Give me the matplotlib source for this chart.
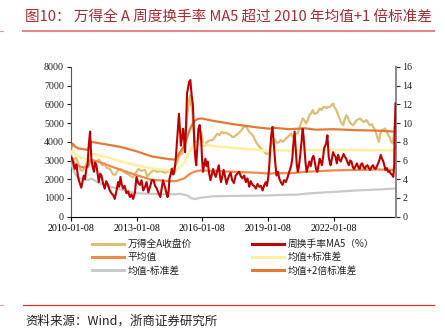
import matplotlib
matplotlib.use("Agg")
import matplotlib.pyplot as plt
from matplotlib.lines import Line2D

# ---------------- data ----------------
red_x = [2010.02, 2010.07, 2010.19, 2010.27, 2010.34, 2010.42, 2010.49, 2010.55, 2010.6, 2010.66,
         2010.72, 2010.78, 2010.83, 2010.89, 2010.95, 2011.01, 2011.07, 2011.12, 2011.18, 2011.24,
         2011.29, 2011.35, 2011.41, 2011.48, 2011.56, 2011.63, 2011.71, 2011.79, 2011.87, 2011.95,
         2012.02, 2012.1, 2012.17, 2012.22, 2012.28, 2012.34, 2012.4, 2012.47, 2012.55, 2012.63,
         2012.71, 2012.78, 2012.86, 2012.94, 2013.01, 2013.09, 2013.17, 2013.24, 2013.32, 2013.4,
         2013.47, 2013.55, 2013.63, 2013.71, 2013.79, 2013.86, 2013.94, 2014.02, 2014.1, 2014.16,
         2014.22, 2014.28, 2014.33, 2014.38, 2014.43, 2014.48, 2014.52, 2014.58, 2014.63, 2014.69,
         2014.74, 2014.8, 2014.86, 2014.91, 2014.95, 2015.0, 2015.04, 2015.09, 2015.14, 2015.19,
         2015.23, 2015.28, 2015.32, 2015.37, 2015.41, 2015.47, 2015.53, 2015.59, 2015.62, 2015.65,
         2015.7, 2015.74, 2015.79, 2015.84, 2015.9, 2015.97, 2016.01, 2016.05, 2016.1, 2016.16,
         2016.21, 2016.26, 2016.33, 2016.39, 2016.45, 2016.51, 2016.57, 2016.63, 2016.7, 2016.77,
         2016.82, 2016.87, 2016.93, 2016.99, 2017.05, 2017.12, 2017.18, 2017.24, 2017.31, 2017.38,
         2017.46, 2017.54, 2017.62, 2017.7, 2017.78, 2017.85, 2017.93, 2018.0, 2018.08, 2018.16,
         2018.23, 2018.31, 2018.38, 2018.46, 2018.54, 2018.62, 2018.69, 2018.77, 2018.85, 2018.92,
         2018.97, 2019.03, 2019.08, 2019.12, 2019.17, 2019.22, 2019.27, 2019.32, 2019.37, 2019.41,
         2019.47, 2019.53, 2019.6, 2019.68, 2019.75, 2019.83, 2019.91, 2019.99, 2020.04, 2020.08,
         2020.13, 2020.17, 2020.23, 2020.29, 2020.33, 2020.38, 2020.43, 2020.49, 2020.54, 2020.6,
         2020.64, 2020.68, 2020.73, 2020.78, 2020.85, 2020.91, 2020.97, 2021.03, 2021.09, 2021.15,
         2021.21, 2021.27, 2021.33, 2021.38, 2021.43, 2021.48, 2021.53, 2021.58, 2021.63, 2021.67,
         2021.73, 2021.79, 2021.84, 2021.88, 2021.94, 2021.99, 2022.04, 2022.1, 2022.16, 2022.22,
         2022.28, 2022.34, 2022.4, 2022.47, 2022.53, 2022.59, 2022.65, 2022.71, 2022.77, 2022.83,
         2022.89, 2022.95, 2023.01, 2023.08, 2023.14, 2023.2, 2023.26, 2023.32, 2023.38, 2023.44,
         2023.5, 2023.56, 2023.62, 2023.68, 2023.74, 2023.81, 2023.87, 2023.93, 2023.99, 2024.05,
         2024.11, 2024.17, 2024.22, 2024.27, 2024.33, 2024.38, 2024.44, 2024.5, 2024.56, 2024.62,
         2024.68, 2024.74, 2024.78, 2024.8, 2024.84]
turnover_ma5 = [6.4, 6.2, 5.1, 5.6, 4.25, 3.6, 3.1, 3.8, 4.4, 4.0,
                5.1, 5.6, 7.6, 9.1, 6.2, 5.3, 4.8, 5.8, 5.5, 4.5,
                3.7, 4.6, 4.4, 3.6, 3.0, 3.8, 3.4, 2.8, 2.5, 2.3,
                1.9, 2.8, 3.7, 3.2, 4.25, 3.4, 3.0, 3.3, 2.5, 2.7,
                2.1, 2.4, 1.9, 2.6, 4.25, 3.6, 3.4, 3.9, 2.8, 3.2,
                3.7, 2.6, 3.2, 3.9, 3.9, 3.3, 3.0, 2.5, 2.1, 3.0,
                3.9, 3.4, 3.0, 2.5, 2.1, 2.8, 4.1, 4.6, 5.1, 4.5,
                4.8, 6.0, 8.0, 9.6, 11.0, 9.0, 7.6, 8.4, 9.4, 8.2,
                6.9, 10.2, 13.2, 13.8, 14.4, 14.6, 13.0, 11.9, 10.0, 8.0,
                6.2, 5.5, 7.5, 9.4, 9.8, 8.0, 6.0, 4.8, 5.6, 6.2,
                5.4, 5.9, 4.6, 3.9, 4.5, 5.1, 4.6, 4.25, 4.9, 5.5,
                4.4, 3.7, 4.3, 5.0, 4.4, 3.5, 4.0, 4.4, 4.7, 3.9,
                3.6, 4.4, 4.6, 4.8, 4.3, 4.1, 4.4, 3.7, 4.1, 3.2,
                3.8, 3.4, 3.3, 3.0, 3.5, 3.2, 3.3, 2.8, 3.4, 3.7,
                3.3, 4.25, 5.6, 7.3, 8.8, 9.6, 8.2, 6.6, 5.2, 4.4,
                4.8, 4.1, 3.7, 3.4, 3.9, 3.7, 4.2, 4.8, 5.2, 5.5,
                6.3, 7.6, 9.1, 6.9, 5.6, 4.8, 5.4, 6.6, 7.8, 9.4,
                8.6, 7.3, 5.8, 4.8, 5.4, 5.9, 5.4, 6.2, 6.5, 5.9,
                5.1, 4.8, 5.6, 6.2, 5.9, 5.5, 6.3, 7.3, 7.6, 7.8,
                8.7, 6.4, 5.8, 5.5, 6.3, 6.9, 6.6, 6.4, 5.7, 6.6,
                6.1, 5.9, 6.3, 6.7, 6.4, 6.2, 5.8, 5.5, 6.0, 5.9,
                5.3, 5.1, 5.4, 5.7, 5.3, 5.1, 5.6, 5.7, 5.3, 5.1,
                5.4, 5.5, 5.2, 5.0, 5.3, 5.5, 5.2, 5.1, 5.4, 5.7,
                6.1, 6.6, 6.2, 6.0, 5.5, 5.0, 5.2, 4.8, 4.9, 4.6,
                4.5, 4.25, 5.5, 8.7, 12.1]

tan_x = [2010.02, 2010.12, 2010.25, 2010.35, 2010.45, 2010.55, 2010.65, 2010.8, 2010.88, 2011.0,
         2011.15, 2011.3, 2011.45, 2011.55, 2011.65, 2011.8, 2011.95, 2012.05, 2012.2, 2012.35,
         2012.5, 2012.65, 2012.85, 2012.95, 2013.1, 2013.25, 2013.4, 2013.5, 2013.65, 2013.8,
         2013.95, 2014.1, 2014.3, 2014.45, 2014.6, 2014.75, 2014.88, 2015.0, 2015.1, 2015.2,
         2015.26, 2015.33, 2015.41, 2015.47, 2015.5, 2015.55, 2015.6, 2015.63, 2015.68, 2015.75,
         2015.86, 2015.97, 2016.02, 2016.05, 2016.15, 2016.23, 2016.32, 2016.42, 2016.5, 2016.6,
         2016.7, 2016.8, 2016.9, 2017.0, 2017.1, 2017.2, 2017.3, 2017.38, 2017.45, 2017.55,
         2017.65, 2017.75, 2017.85, 2017.92, 2018.0, 2018.07, 2018.15, 2018.25, 2018.35, 2018.46,
         2018.55, 2018.62, 2018.7, 2018.8, 2018.92, 2019.0, 2019.07, 2019.15, 2019.22, 2019.3,
         2019.38, 2019.45, 2019.53, 2019.6, 2019.7, 2019.83, 2019.92, 2019.99, 2020.06, 2020.14,
         2020.22, 2020.29, 2020.37, 2020.45, 2020.52, 2020.6, 2020.68, 2020.75, 2020.83, 2020.91,
         2021.0, 2021.06, 2021.13, 2021.21, 2021.3, 2021.38, 2021.46, 2021.54, 2021.61, 2021.7,
         2021.76, 2021.84, 2021.91, 2021.99, 2022.05, 2022.14, 2022.22, 2022.29, 2022.37, 2022.45,
         2022.52, 2022.6, 2022.68, 2022.75, 2022.82, 2022.9, 2022.98, 2023.06, 2023.14, 2023.22,
         2023.3, 2023.37, 2023.45, 2023.52, 2023.6, 2023.67, 2023.75, 2023.82, 2023.9, 2023.98,
         2024.04, 2024.08, 2024.14, 2024.2, 2024.28, 2024.36, 2024.43, 2024.5, 2024.58, 2024.65,
         2024.72, 2024.77, 2024.8, 2024.84]
wind_a_close = [3300, 3050, 3150, 2850, 2500, 2450, 2650, 3000, 3050, 2850,
                2950, 3050, 2750, 2850, 2600, 2550, 2250, 2250, 2550, 2500,
                2350, 2250, 2100, 2300, 2550, 2450, 2500, 2150, 2350, 2500,
                2400, 2450, 2350, 2400, 2550, 2650, 2950, 3300, 3350, 3900,
                4700, 5400, 6230, 6500, 6000, 5780, 4900, 4540, 4000, 3900,
                4180, 4540, 4200, 3820, 3800, 4000, 4050, 4090, 4100, 4270,
                4440, 4360, 4540, 4450, 4500, 4420, 4360, 4270, 4250, 4350,
                4440, 4550, 4700, 4800, 4850, 4710, 4550, 4440, 4300, 4000,
                3850, 3750, 3640, 3550, 3370, 3350, 3460, 3750, 4000, 4150,
                4000, 3950, 4000, 4100, 4000, 4180, 4250, 4360, 4450, 4270,
                4200, 4440, 4450, 4710, 5000, 5250, 5150, 4980, 5150, 5430,
                5550, 5700, 5500, 5520, 5600, 5780, 5700, 5850, 5870, 5800,
                5870, 5850, 5960, 6050, 5850, 5700, 5450, 5250, 5000, 4890,
                5200, 5430, 5250, 5070, 4950, 4890, 5000, 5160, 5200, 5250,
                5150, 5070, 5100, 5160, 5000, 4890, 4950, 4800, 4650, 4360,
                4150, 4000, 4400, 4630, 4650, 4710, 4600, 4360, 4250, 4000,
                3910, 4400, 4980, 5070]

band_x = [2010.02, 2010.1, 2010.2, 2010.35, 2010.5, 2010.8, 2010.88, 2010.95, 2011.3, 2011.7,
          2012.3, 2013.0, 2013.7, 2014.5, 2014.8, 2015.0, 2015.2, 2015.35, 2015.5, 2015.65,
          2015.8, 2016.0, 2016.5, 2017.4, 2018.5, 2019.1, 2019.3, 2020.0, 2020.3, 2020.7,
          2021.2, 2022.0, 2023.0, 2024.0, 2024.75, 2024.84]
mean_val = [5.7, 6.1, 5.6, 5.45, 5.3, 5.3, 5.8, 6.07, 5.85, 5.5,
            5.0, 4.45, 3.95, 3.8, 3.8, 3.95, 4.1, 4.4, 4.65, 4.8,
            4.9, 4.95, 4.9, 4.8, 4.7, 4.6, 4.65, 4.65, 4.7, 4.8,
            4.85, 4.95, 5.0, 5.05, 5.0, 5.05]
mean_plus_std = [6.8, 7.1, 6.7, 6.45, 6.3, 6.15, 6.7, 6.75, 6.55, 6.35,
                 5.9, 5.5, 5.15, 4.95, 4.95, 5.3, 5.8, 6.5, 7.3, 7.7,
                 7.8, 7.75, 7.55, 7.36, 7.15, 7.0, 7.1, 7.05, 7.1, 7.15,
                 7.1, 7.15, 7.12, 7.1, 7.08, 7.1]
mean_minus_std = [5.9, 5.2, 4.6, 4.2, 4.05, 3.9, 4.0, 4.07, 3.6, 3.3,
                  2.9, 2.5, 2.45, 2.4, 2.4, 2.45, 2.35, 2.25, 2.0, 1.88,
                  1.95, 2.05, 2.18, 2.22, 2.25, 2.28, 2.3, 2.35, 2.35, 2.45,
                  2.54, 2.65, 2.8, 2.9, 3.0, 3.0]
mean_plus_2std = [7.3, 7.8, 7.5, 7.3, 7.25, 7.14, 7.7, 8.0, 7.85, 7.7,
                  7.45, 7.0, 6.45, 6.15, 6.1, 6.9, 7.6, 8.7, 9.6, 10.2,
                  10.45, 10.5, 10.25, 9.9, 9.55, 9.4, 9.5, 9.35, 9.4, 9.45,
                  9.3, 9.35, 9.25, 9.2, 9.1, 9.2]

xtick_pos = [2010.02, 2013.02, 2016.02, 2019.02, 2022.02]
xtick_labels = ["2010-01-08", "2013-01-08", "2016-01-08", "2019-01-08", "2022-01-08"]

labels = ["万得全A收盘价", "平均值", "均值-标准差", "周换手率MA5（%）", "均值+标准差", "均值+2倍标准差"]

# ---------------- style ----------------
C_TAN = "#DCBE74"
C_RED = "#C00000"
C_MEAN = "#F08A4B"
C_PSTD = "#FFF0A0"
C_MSTD = "#C9C9C9"
C_P2STD = "#E07A35"

cjk = ["Noto Sans CJK SC", "DejaVu Sans"]
serif = ["Liberation Serif", "DejaVu Serif"]

fig = plt.figure(figsize=(4.45, 3.36), dpi=100)
W, H = 445, 336
ax = fig.add_axes([71 / W, 1 - 216.7 / H, (395.5 - 71) / W, (216.7 - 67) / H])
ax2 = ax.twinx()

ax.plot(tan_x, wind_a_close, color=C_TAN, lw=1.6, zorder=3)
ax2.plot(band_x, mean_minus_std, color=C_MSTD, lw=1.6, zorder=2)
ax2.plot(band_x, mean_plus_std, color=C_PSTD, lw=1.8, zorder=2)
ax2.plot(band_x, mean_val, color=C_MEAN, lw=1.6, zorder=2)
ax2.plot(band_x, mean_plus_2std, color=C_P2STD, lw=1.6, zorder=2)
ax2.plot(red_x, turnover_ma5, color=C_RED, lw=1.5, zorder=4)

ax.set_xlim(red_x[0], red_x[-1])
ax.set_ylim(0, 8000)
ax2.set_ylim(0, 16)
ax.set_yticks(range(0, 8001, 1000))
ax2.set_yticks(range(0, 17, 2))
ax.set_xticks(xtick_pos)
ax.set_xticklabels(xtick_labels)

for a in (ax, ax2):
    a.spines["top"].set_visible(False)
    a.tick_params(direction="out", length=3, width=0.8, labelsize=7.2, pad=2)
    for lab in a.get_xticklabels() + a.get_yticklabels():
        lab.set_family(serif)
ax.spines["left"].set_color("#555555")
ax.spines["bottom"].set_color("#000000")
ax2.spines["left"].set_visible(False)
ax2.spines["bottom"].set_visible(False)
ax2.spines["right"].set_color("#888888")
ax2.spines["right"].set_linewidth(1.4)
ax.spines["right"].set_visible(False)
ax.tick_params(axis="y", colors="#222222")
ax2.tick_params(axis="y", colors="#222222")

# legends
def handle(c):
    return Line2D([0], [0], color=c, lw=2.2)

h_left = [handle(C_TAN), handle(C_MEAN), handle(C_MSTD)]
h_right = [handle(C_RED), handle(C_PSTD), handle(C_P2STD)]
common = dict(frameon=False, loc="upper left", borderpad=0, borderaxespad=0,
              handlelength=3.3, handletextpad=0.35, labelspacing=0.35,
              prop={"family": cjk, "size": 7})
leg1 = fig.legend(h_left, labels[:3], bbox_to_anchor=(92 / W, 1 - 239 / H), **common)
leg2 = fig.legend(h_right, labels[3:], bbox_to_anchor=(252 / W, 1 - 239 / H), **common)
for lg in (leg1, leg2):
    for t in lg.get_texts():
        t.set_color("#222222")

# title and decorations
fig.text(25 / W, 1 - 18 / H, "图10： 万得全 A 周度换手率 MA5 超过 2010 年均值+1 倍标准差",
         family=cjk, fontsize=10.5, color="#A82A30", va="center", ha="left")
fig.add_artist(Line2D([23 / W, 434 / W], [1 - 31 / H, 1 - 31 / H], color="#E08888", lw=1.5))
fig.add_artist(Line2D([23 / W, 434 / W], [1 - 305 / H, 1 - 305 / H], color="#E03535", lw=0.9))
fig.add_artist(Line2D([0, 3 / W], [1 - 31 / H, 1 - 31 / H], color="#E0A0A0", lw=0.8))
fig.add_artist(Line2D([0, 3 / W], [1 - 305 / H, 1 - 305 / H], color="#E0A0A0", lw=0.8))
fig.text(25 / W, 1 - 321 / H, "资料来源：Wind，浙商证券研究所", family=cjk, fontsize=9,
         color="#222222", va="center", ha="left")

fig.savefig("out.png", dpi=100)
